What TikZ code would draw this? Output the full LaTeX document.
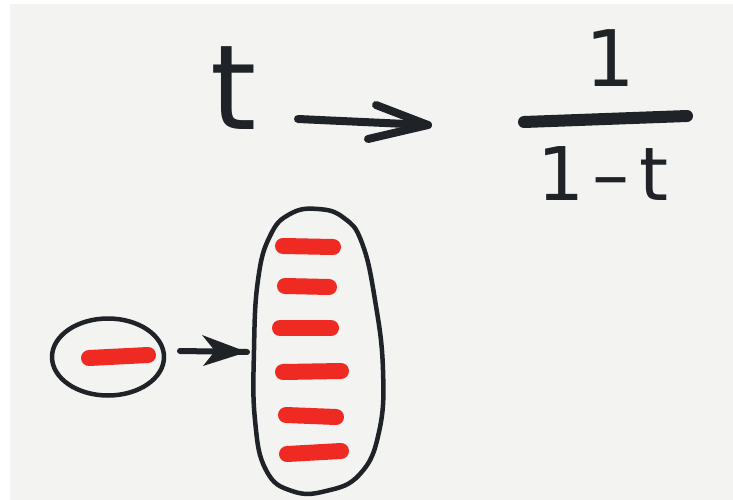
\documentclass[tikz,border=0pt]{standalone}
\usepackage{fontspec}
\setmainfont{DejaVu Sans}
\usetikzlibrary{shapes.geometric,arrows.meta}
\definecolor{ink}{HTML}{1F2327}
\definecolor{marker}{HTML}{EE2A22}
\definecolor{paper}{HTML}{F3F3F2}
\tikzset{
  hand/.style={draw=ink,line width=4.5pt,line cap=round,line join=round},
  redbar/.style={draw=marker,line width=16pt,line cap=round},
  handtext/.style={text=ink,inner sep=0pt,anchor=base},
}
\begin{document}
\begin{tikzpicture}[x=1pt,y=-1pt]
\useasboundingbox (0,0) rectangle (733,500);
\fill[white] (0,0) rectangle (733,500);
\fill[paper] (10,4) rectangle (733,500);
% top formula
\node[handtext,font=\fontsize{118}{118}\selectfont] (t) at (234,130) {t};
\coordinate (a1) at (298,119);
\coordinate (a2) at (428,125);
\draw[draw=ink,line width=8pt,line cap=round,line join=round] (a1) -- (a2);
\draw[draw=ink,line width=8pt,line cap=round,line join=round]
  (a2) ++(-52,-20) -- (a2) -- ++(-60,14);
\node[handtext,font=\fontsize{78}{78}\selectfont] (num) at (610,87) {1};
\coordinate (b1) at (524,122);
\coordinate (b2) at (687,116);
\draw[draw=ink,line width=12pt,line cap=round] (b1) -- (b2);
\node[handtext,font=\fontsize{74}{74}\selectfont] (den) at (603,200) {1\kern8pt–\kern10pt t};
% small set
\node[ellipse,hand,minimum width=112pt,minimum height=77pt] (small) at (108,357) {};
\draw[redbar] (89,358) -- (148,355);
% big set
\draw[hand] plot[smooth cycle,tension=0.75] coordinates {
  (318,209) (344,218) (362,243) (375,300) (383,370) (379,432) (360,474)
  (326,491) (292,491) (266,470) (255,420) (254,350) (258,280) (270,236) (290,214)};
\coordinate (bigL) at (247,352);
\coordinate (s1) at (180,351);
\draw[draw=ink,line width=6pt,line cap=round] (s1) -- (bigL);
\fill[ink] (bigL) -- ++(-45,-17) -- ++(13,16) -- ++(-12,15) -- cycle;
\draw[redbar] (283,246) -- (333,247);
\draw[redbar] (285,286) -- (329,287);
\draw[redbar] (280,328) -- (331,328);
\draw[redbar] (283,372) -- (341,371);
\draw[redbar] (286,415) -- (336,417);
\draw[redbar] (287,454) -- (341,451);
\end{tikzpicture}
\end{document}
